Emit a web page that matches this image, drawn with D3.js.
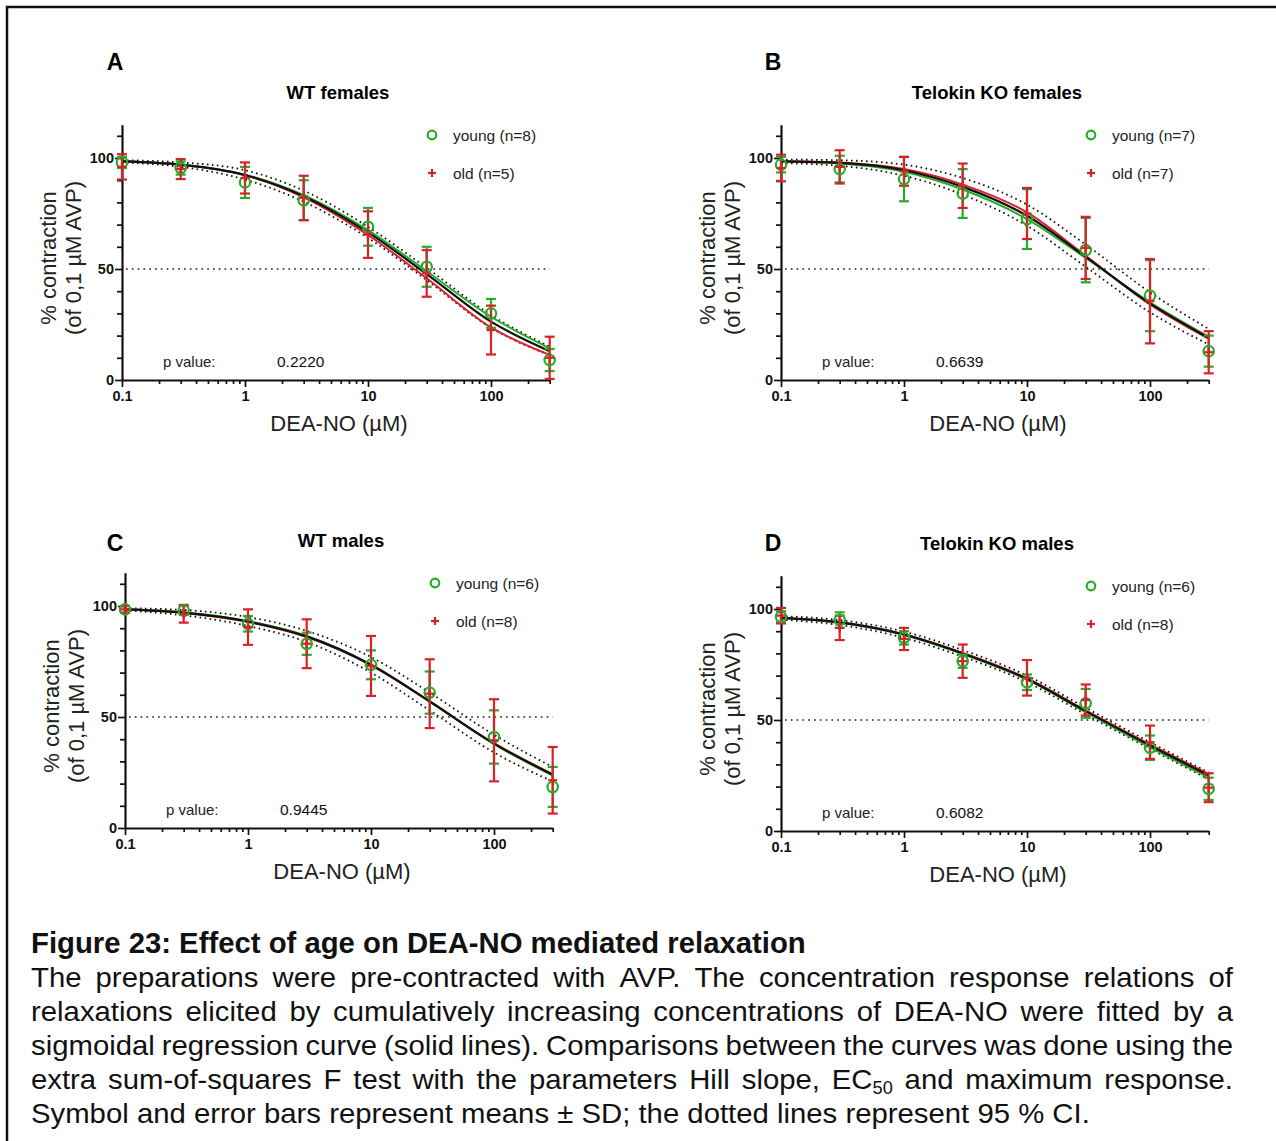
<!DOCTYPE html>
<html>
<head>
<meta charset="utf-8">
<script src="https://cdn.jsdelivr.net/npm/d3@7"></script>
<style>
  body { margin: 0; background: #fff; }
  svg { display: block; }
</style>
</head>
<body>
<svg width="1276" height="1141"></svg>
<script>
// DEA-NO concentrations (µM)
const doses = [0.1, 0.3, 1, 3, 10, 30, 100, 300];

const panelLetters = ["A", "B", "C", "D"];
const panelTitles = ["WT females", "Telokin KO females", "WT males", "Telokin KO males"];
const youngN = [8, 7, 6, 6];
const oldN = [5, 7, 8, 8];
const pValues = ["0.2220", "0.6639", "0.9445", "0.6082"];

// means and SD
const youngMeanA = [98, 95.5, 89, 81, 69, 51, 30, 9];
const youngSdA = [2.5, 3, 7, 9, 8.5, 9, 6.5, 5];
const oldMeanA = [96, 95, 91, 82, 65.5, 48, 22.5, 10];
const oldSdA = [5.7, 4.5, 7, 10, 10.5, 10.5, 11, 9.5];

const youngMeanB = [97, 95, 90.5, 84, 72.5, 58.5, 38, 13];
const youngSdB = [3.5, 6, 10, 11, 13.5, 14.5, 16, 7];
const oldMeanB = [95.5, 96, 94, 87.5, 75, 59.5, 35.5, 12.5];
const oldSdB = [6, 7.5, 6.5, 10, 11.5, 14, 19, 9.5];

const youngMeanC = [98.5, 98, 92, 83, 73.5, 61, 41, 18.5];
const youngSdC = [1.5, 2, 3.5, 5, 6.5, 9.5, 12, 9];
const oldMeanC = [98.5, 96.5, 90.5, 83, 73, 60.5, 39.5, 21.5];
const oldSdC = [1.5, 4, 8, 11, 13.5, 15.5, 18.5, 15];

const youngMeanD = [96.5, 95, 87, 76.5, 67, 57.5, 37.5, 19];
const youngSdD = [2.5, 3.5, 3, 3, 3.5, 6.5, 5.5, 5];
const oldMeanD = [97, 91.5, 86.5, 76.5, 69, 59, 40, 19.5];
const oldSdD = [3.5, 5.5, 5, 7.5, 8, 7, 7.5, 6.5];

// fitted curves (young, old, shared) and the 95 % CI band, read at each dose
const fitYoungA = [98.5, 97, 92.5, 83.3, 67.5, 49, 28.5, 14.3];
const fitOldA = [98.5, 97, 92.3, 82.3, 65.3, 45.8, 23.7, 11.3];
const fitAllA = [98.5, 97, 92.3, 82.8, 66.5, 47.7, 26.3, 13];
const ciUpA = [99, 98, 94.5, 85.3, 69, 50.5, 29.3, 15];
const ciLoA = [98, 96, 90.3, 80.3, 64, 45, 23.5, 11.2];

const fitYoungB = [98.5, 97.5, 93.8, 85.8, 72.5, 55, 35, 19.5];
const fitOldB = [98.7, 98, 95, 88, 75.5, 56, 34, 18.5];
const fitAllB = [98.5, 97.8, 94.5, 87, 74, 55.5, 34.5, 19];
const ciUpB = [99.3, 99, 97, 91, 79, 61, 39.5, 23];
const ciLoB = [97.7, 96.5, 92, 83.5, 69.5, 51, 30.5, 16];

const fitYoungC = [98.5, 97.2, 93.2, 86.5, 73.6, 57, 37.8, 23.6];
const fitOldC = [98.5, 96.9, 92.8, 86, 73.3, 57, 38.2, 24.3];
const fitAllC = [98.5, 97, 93, 86.3, 73.5, 57, 38, 24];
const ciUpC = [99, 98.2, 95, 88.8, 77, 61, 42, 27.5];
const ciLoC = [98, 95.8, 91, 83.8, 70, 53, 34, 21];

const fitYoungD = [96, 93.8, 88.3, 79.7, 68.2, 53.5, 37.7, 24];
const fitOldD = [96, 94, 88.6, 80.2, 68.8, 54.3, 39, 25.7];
const fitAllD = [96, 94, 88.5, 80, 68.5, 54, 38.5, 25];
const ciUpD = [96.8, 95, 89.8, 81.5, 70, 55.5, 40, 26.3];
const ciLoD = [95.2, 92.8, 87, 78.5, 67, 52.5, 37, 23.3];

const yMajorTicks = [0, 50, 100];
const xMajorTicks = [0.1, 1, 10, 100];

const captionTitle = "Figure 23: Effect of age on DEA-NO mediated relaxation";
const captionLines = [
  "The preparations were pre-contracted with AVP. The concentration response relations of",
  "relaxations elicited by cumulatively increasing concentrations of DEA-NO were fitted by a",
  "sigmoidal regression curve (solid lines). Comparisons between the curves was done using the",
  "extra sum-of-squares F test with the parameters Hill slope, EC{50} and maximum response.",
  "Symbol and error bars represent means ± SD; the dotted lines represent 95 % CI."
];

const panels = [
  { young: youngMeanA, youngSd: youngSdA, old: oldMeanA, oldSd: oldSdA, fy: fitYoungA, fo: fitOldA, fa: fitAllA, up: ciUpA, lo: ciLoA },
  { young: youngMeanB, youngSd: youngSdB, old: oldMeanB, oldSd: oldSdB, fy: fitYoungB, fo: fitOldB, fa: fitAllB, up: ciUpB, lo: ciLoB },
  { young: youngMeanC, youngSd: youngSdC, old: oldMeanC, oldSd: oldSdC, fy: fitYoungC, fo: fitOldC, fa: fitAllC, up: ciUpC, lo: ciLoC },
  { young: youngMeanD, youngSd: youngSdD, old: oldMeanD, oldSd: oldSdD, fy: fitYoungD, fo: fitOldD, fa: fitAllD, up: ciUpD, lo: ciLoD }
];

// where each panel sits: y axis x position, x axis y position
const panelLayout = [
  { left: 122, bottom: 380, letterX: 115, letterY: 62 },
  { left: 781, bottom: 380, letterX: 773, letterY: 62 },
  { left: 125, bottom: 828, letterX: 115, letterY: 543 },
  { left: 781, bottom: 831, letterX: 773, letterY: 543 }
];

const green = "#26ad2a";
const red = "#d8222a";
const font = "'Liberation Sans', Arial, sans-serif";
const decade_px = 123;
const unit_px = 2.22;

const svg = d3.select("svg");

svg.append("rect")
  .attr("x", 7).attr("y", 7)
  .attr("width", 1400).attr("height", 1400)
  .attr("fill", "none").attr("stroke", "#111").attr("stroke-width", 2.5);

function drawPanel(i) {
  const L = panelLayout[i];
  const P = panels[i];
  const x = d3.scaleLog().domain([0.1, 300]).range([L.left, L.left + decade_px * Math.log10(3000)]);
  const y = d3.scaleLinear().domain([0, 115]).range([L.bottom, L.bottom - 115 * unit_px]);
  const g = svg.append("g").attr("class", "panel");

  // letter and title
  g.append("text").attr("x", L.letterX).attr("y", L.letterY)
    .attr("text-anchor", "middle").attr("dominant-baseline", "central")
    .attr("font-family", font).attr("font-weight", "bold").attr("font-size", 23)
    .text(panelLetters[i]);
  g.append("text").attr("x", L.left + 216).attr("y", L.bottom - 288)
    .attr("text-anchor", "middle").attr("dominant-baseline", "central")
    .attr("font-family", font).attr("font-weight", "bold").attr("font-size", 18.5)
    .text(panelTitles[i]);

  // axes - minor ticks first, then majors with labels
  const xMinor = [];
  [0.1, 1, 10, 100].forEach(d => { for (let k = 2; k <= 9; k++) if (k * d <= 300.001) xMinor.push(k * d); });
  const yMinor = d3.range(10, 115, 10).filter(v => v !== 50 && v !== 100);

  const xMin = g.append("g").attr("transform", `translate(0,${L.bottom})`)
    .call(d3.axisBottom(x).tickValues(xMinor).tickSize(4).tickSizeOuter(0).tickFormat(""));
  xMin.select(".domain").remove();
  const xMaj = g.append("g").attr("transform", `translate(0,${L.bottom})`)
    .call(d3.axisBottom(x).tickValues(xMajorTicks).tickSize(7).tickSizeOuter(0).tickPadding(4).tickFormat(d3.format("~g")));

  const yMin = g.append("g").attr("transform", `translate(${L.left},0)`)
    .call(d3.axisLeft(y).tickValues(yMinor).tickSize(5).tickSizeOuter(0).tickFormat(""));
  yMin.select(".domain").remove();
  const yMaj = g.append("g").attr("transform", `translate(${L.left},0)`)
    .call(d3.axisLeft(y).tickValues(yMajorTicks).tickSize(7).tickSizeOuter(0).tickPadding(1));

  [xMin, xMaj, yMin, yMaj].forEach(a => {
    a.selectAll(".tick line").attr("stroke", "#111").attr("stroke-width", 1.7);
    a.selectAll(".domain").attr("stroke", "#111").attr("stroke-width", 2.2);
    a.selectAll("text").attr("font-family", font).attr("font-weight", "bold")
      .attr("font-size", 14.5).attr("fill", "#111");
  });

  // axis titles
  g.append("text").attr("x", L.left + 217).attr("y", L.bottom + 43)
    .attr("text-anchor", "middle").attr("dominant-baseline", "central")
    .attr("font-family", font).attr("font-size", 22).attr("fill", "#222")
    .text("DEA-NO (µM)");
  [["% contraction", 74], ["(of 0,1 µM AVP)", 49]].forEach(([t, off]) => {
    g.append("text")
      .attr("transform", `translate(${L.left - off},${L.bottom - 122}) rotate(-90)`)
      .attr("text-anchor", "middle").attr("dominant-baseline", "central")
      .attr("font-family", font).attr("font-size", 22).attr("fill", "#222")
      .text(t);
  });

  // 50 % reference line
  g.append("line")
    .attr("x1", x(0.1) + 4).attr("x2", x(300))
    .attr("y1", y(50)).attr("y2", y(50))
    .attr("stroke", "#222").attr("stroke-width", 1.7)
    .attr("stroke-dasharray", "1.7,4.1");

  const line = d3.line()
    .x((d, j) => x(doses[j]))
    .y(d => y(d))
    .curve(d3.curveMonotoneX);

  // CI bands as dotted curves
  [P.up, P.lo].forEach(s => {
    g.append("path").attr("d", line(s)).attr("fill", "none")
      .attr("stroke", "#111").attr("stroke-width", 1.8)
      .attr("stroke-dasharray", "1.6,3.4");
  });
  g.append("path").attr("d", line(P.fy)).attr("fill", "none").attr("stroke", green).attr("stroke-width", 2);
  g.append("path").attr("d", line(P.fo)).attr("fill", "none").attr("stroke", red).attr("stroke-width", 2);
  g.append("path").attr("d", line(P.fa)).attr("fill", "none").attr("stroke", "#111").attr("stroke-width", 2.2);

  function errorBars(mean, sd, color) {
    const eb = g.append("g").attr("stroke", color).attr("stroke-width", 2.2);
    doses.forEach((d, j) => {
      const cx = x(d), y1 = y(mean[j] + sd[j]), y2 = y(mean[j] - sd[j]);
      eb.append("line").attr("x1", cx).attr("x2", cx).attr("y1", y1).attr("y2", y2);
      eb.append("line").attr("x1", cx - 5).attr("x2", cx + 5).attr("y1", y1).attr("y2", y1);
      eb.append("line").attr("x1", cx - 5).attr("x2", cx + 5).attr("y1", y2).attr("y2", y2);
    });
  }
  errorBars(P.young, P.youngSd, green);
  errorBars(P.old, P.oldSd, red);

  g.append("g").selectAll("circle").data(P.young).join("circle")
    .attr("cx", (d, j) => x(doses[j])).attr("cy", d => y(d)).attr("r", 5.2)
    .attr("fill", "none").attr("stroke", green).attr("stroke-width", 2.2);
  const plus = g.append("g").attr("stroke", red).attr("stroke-width", 2.2);
  P.old.forEach((v, j) => {
    const cx = x(doses[j]), cy = y(v);
    plus.append("line").attr("x1", cx - 4.5).attr("x2", cx + 4.5).attr("y1", cy).attr("y2", cy);
    plus.append("line").attr("x1", cx).attr("x2", cx).attr("y1", cy - 4.5).attr("y2", cy + 4.5);
  });

  // legend
  const lx = L.left + 310, ly = L.bottom - 245;
  g.append("circle").attr("cx", lx).attr("cy", ly).attr("r", 4.3)
    .attr("fill", "none").attr("stroke", green).attr("stroke-width", 2.2);
  g.append("line").attr("x1", lx - 4).attr("x2", lx + 4).attr("y1", ly + 38).attr("y2", ly + 38)
    .attr("stroke", red).attr("stroke-width", 2.2);
  g.append("line").attr("x1", lx).attr("x2", lx).attr("y1", ly + 34).attr("y2", ly + 42)
    .attr("stroke", red).attr("stroke-width", 2.2);
  [[`young (n=${youngN[i]})`, 0], [`old (n=${oldN[i]})`, 38]].forEach(([t, dy]) => {
    g.append("text").attr("x", lx + 21).attr("y", ly + dy)
      .attr("dominant-baseline", "central")
      .attr("font-family", font).attr("font-size", 15.5).attr("fill", "#222")
      .text(t);
  });

  // p value
  g.append("text").attr("x", L.left + 41).attr("y", L.bottom - 19)
    .attr("dominant-baseline", "central")
    .attr("font-family", font).attr("font-size", 15).attr("fill", "#222")
    .text("p value:");
  g.append("text").attr("x", L.left + 155).attr("y", L.bottom - 19)
    .attr("dominant-baseline", "central")
    .attr("font-family", font).attr("font-size", 15.5).attr("fill", "#111")
    .text(pValues[i]);
}

panels.forEach((p, i) => drawPanel(i));

// caption - narrow font look, lines justified between x=31 and x=1233
const capFont = "'Liberation Sans Narrow', 'Arial Narrow', 'Liberation Sans', Arial, sans-serif";
const capLeft = 31, capWidth = 1202;

function addWord(parent, word, size) {
  const t = parent.append("text").attr("font-family", capFont).attr("font-size", size).attr("fill", "#111");
  const m = word.match(/^(.*)\{(.+)\}(.*)$/);
  if (m) {
    t.append("tspan").text(m[1]);
    t.append("tspan").attr("font-size", size * 0.62).attr("dy", 5).text(m[2]);
    t.append("tspan").attr("dy", -5).text(m[3]);
  } else {
    t.text(word);
  }
  return t;
}

const head = svg.append("g");
const headText = head.append("text").attr("font-family", capFont).attr("font-weight", "bold")
  .attr("font-size", 29).attr("fill", "#111").text(captionTitle);
const headW = headText.node().getComputedTextLength();
head.attr("transform", `translate(${capLeft},953) scale(${775 / headW},1)`);

const capSize = 28.5;
const lastLine = captionLines[captionLines.length - 1];
const probe = svg.append("g");
const probeText = addWord(probe, lastLine, capSize);
const sx = 1059 / probeText.node().getComputedTextLength();
probe.remove();

captionLines.forEach((ln, k) => {
  const base = 987 + k * 34;
  const lg = svg.append("g").attr("transform", `translate(${capLeft},${base}) scale(${sx},1)`);
  if (k === captionLines.length - 1) {
    addWord(lg, ln, capSize);
    return;
  }
  const words = ln.split(" ");
  const nodes = words.map(w => addWord(lg, w, capSize));
  const widths = nodes.map(n => n.node().getComputedTextLength());
  const gap = (capWidth / sx - d3.sum(widths)) / (words.length - 1);
  let cx = 0;
  nodes.forEach((n, j) => { n.attr("x", cx); cx += widths[j] + gap; });
});
</script>
</body>
</html>
